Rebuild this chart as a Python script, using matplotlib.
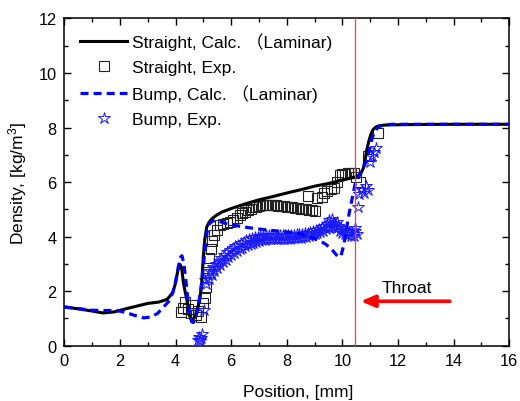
import matplotlib
matplotlib.use("Agg")
import matplotlib.pyplot as plt
from matplotlib.ticker import MultipleLocator

plt.rcParams['font.family'] = ['Liberation Sans', 'Noto Sans CJK SC', 'DejaVu Sans']
plt.rcParams['mathtext.default'] = 'regular'

# ---- data ----
straight_calc_x = [0, 0.3, 0.7, 1.0, 1.4, 1.8, 2.2, 2.6, 3.0, 3.4, 3.7, 3.9, 4.0, 4.08, 4.16, 4.22,
                   4.28, 4.34, 4.4, 4.46, 4.52, 4.58, 4.65, 4.72, 4.8, 4.88, 4.94, 5.0, 5.05, 5.12,
                   5.2, 5.3, 5.45, 5.66, 6.0, 6.5, 7.0, 7.5, 8.0, 8.5, 9.0, 9.5, 10.0, 10.3, 10.5,
                   10.65, 10.75, 10.82, 10.88, 10.95, 11.02, 11.1, 11.2, 11.3, 11.5, 11.8, 12.5, 14, 16]
straight_calc_y = [1.42, 1.38, 1.32, 1.27, 1.2, 1.24, 1.35, 1.45, 1.55, 1.6, 1.7, 1.95, 2.3, 2.75, 2.98, 2.85,
                   2.33, 2.0, 1.72, 1.3, 1.05, 0.92, 1.0, 1.15, 1.4, 1.75, 2.3, 3.3, 3.9, 4.35,
                   4.52, 4.65, 4.77, 4.9, 5.03, 5.2, 5.35, 5.47, 5.6, 5.72, 5.85, 5.95, 6.07, 6.15, 6.2,
                   6.3, 6.5, 6.85, 7.2, 7.5, 7.75, 7.92, 8.02, 8.06, 8.09, 8.1, 8.11, 8.12, 8.12]

bump_calc_x = [0, 0.5, 1.0, 1.5, 1.9, 2.2, 2.5, 2.85, 3.1, 3.35, 3.55, 3.75, 3.9, 4.0, 4.1, 4.18, 4.23,
               4.3, 4.38, 4.45, 4.52, 4.58, 4.64, 4.7, 4.78, 4.86, 4.94, 5.0, 5.06, 5.12, 5.2, 5.3,
               5.42, 5.6, 5.9, 6.3, 6.62, 7.0, 7.5, 8.0, 8.5, 9.0, 9.2, 9.4, 9.6, 9.85, 9.95, 10.05,
               10.15, 10.25, 10.35, 10.45, 10.55, 10.7, 10.85, 10.95, 11.05, 11.15, 11.3, 11.5, 11.8,
               12.5, 14, 16]
bump_calc_y = [1.42, 1.36, 1.3, 1.29, 1.29, 1.22, 1.12, 1.02, 1.05, 1.18, 1.4, 1.62, 1.95, 2.35, 2.9, 3.25, 3.3,
               3.0, 2.3, 1.6, 1.1, 0.88, 0.85, 0.95, 1.25, 1.75, 2.3, 2.9, 3.6, 4.1, 4.45, 4.55,
               4.6, 4.55, 4.45, 4.38, 4.33, 4.28, 4.22, 4.17, 4.1, 3.92, 3.84, 3.72, 3.55, 3.25, 3.3, 3.7,
               4.3, 4.9, 5.4, 5.9, 6.15, 6.4, 6.75, 7.1, 7.55, 7.85, 8.03, 8.1, 8.12,
               8.12, 8.12, 8.12]

straight_exp_x = [4.18, 4.25, 4.34, 4.45, 4.55, 4.64, 4.72, 4.82, 4.9, 4.98, 5.05, 5.1, 5.15, 5.2, 5.26,
                  5.32, 5.4, 5.48, 5.6, 5.72, 5.84, 5.96, 6.08, 6.2, 6.3, 6.4, 6.5, 6.6, 6.7, 6.8,
                  6.9, 7.0, 7.1, 7.2, 7.3, 7.4, 7.5, 7.6, 7.7, 7.8, 7.9, 8.0, 8.1, 8.2, 8.3, 8.4,
                  8.5, 8.6, 8.7, 8.8, 8.9, 9.0, 8.77, 9.1, 9.25, 9.35, 9.45, 9.58, 9.68, 9.8, 9.9,
                  10.0, 10.1, 10.2, 10.3, 10.4, 10.5, 10.62, 10.93, 11.28]
straight_exp_y = [1.25, 1.4, 1.62, 1.35, 1.2, 1.5, 1.12, 1.28, 1.05, 1.57, 1.75, 2.15, 2.72, 3.2, 3.55,
                  3.85, 4.05, 4.23, 4.42, 4.45, 4.5, 4.55, 4.62, 4.7, 4.78, 4.85, 4.9, 4.96, 5.02, 5.07,
                  5.1, 5.13, 5.15, 5.16, 5.16, 5.16, 5.16, 5.15, 5.14, 5.12, 5.12, 5.1, 5.09, 5.08, 5.06, 5.05,
                  5.03, 5.01, 5.0, 4.98, 4.97, 4.95, 5.5, 5.4, 5.47, 5.6, 5.66, 5.75, 5.8, 6.0, 6.25,
                  6.3, 6.3, 6.32, 6.35, 6.33, 6.2, 6.0, 6.95, 7.8]

bump_exp_x = [5.05, 5.15, 5.25, 5.35, 5.45, 5.55, 5.65, 5.75, 5.85, 5.95, 6.05, 6.15, 6.25, 6.35, 6.45,
              6.55, 6.65, 6.75, 6.85, 6.95, 7.05, 7.15, 7.25, 7.35, 7.45, 7.55, 7.65, 7.75, 7.85, 7.95,
              8.05, 8.15, 8.25, 8.35, 8.45, 8.55, 8.65, 8.75, 8.85, 8.95, 9.05, 9.15, 9.25, 9.35, 9.45,
              9.55, 9.65, 9.75, 9.85, 9.95, 10.05, 10.15, 10.25, 10.35, 10.45,
              5.1, 5.2, 5.3, 5.4, 5.5, 5.6, 5.7, 5.8, 5.9, 6.0, 6.1, 6.2, 6.3, 6.4, 6.5,
              6.6, 6.7, 6.8, 6.9, 7.0, 7.1, 7.2, 7.3, 7.4, 7.5, 7.6, 7.7, 7.8, 7.9, 8.0,
              8.1, 8.2, 8.3, 8.4, 8.5, 8.6, 8.7, 8.8, 8.9, 9.0, 9.1, 9.2, 9.3, 9.4, 9.5,
              9.6, 9.7, 9.8, 9.9, 10.0, 10.1, 10.2, 10.3, 10.4,
              4.82, 4.86, 4.9, 4.95, 4.88, 5.02, 9.5, 9.62, 9.8, 10.45, 10.52, 10.55, 10.6, 10.7,
              10.78, 10.85, 10.92, 11.0, 11.05, 11.12, 11.2]
bump_exp_y = [2.42, 2.58, 2.74, 2.88, 3.0, 3.12, 3.23, 3.33, 3.42, 3.5, 3.58, 3.65, 3.71, 3.77, 3.82,
              3.87, 3.91, 3.94, 3.97, 4.0, 4.02, 4.03, 4.05, 4.06, 4.07, 4.07, 4.07, 4.07, 4.07, 4.07,
              4.07, 4.07, 4.07, 4.08, 4.08, 4.1, 4.12, 4.14, 4.17, 4.21, 4.25, 4.29, 4.34, 4.4, 4.46,
              4.5, 4.5, 4.46, 4.38, 4.31, 4.25, 4.19, 4.17, 4.16, 4.2,
              2.28, 2.44, 2.6, 2.74, 2.86, 2.97, 3.07, 3.16, 3.25, 3.33, 3.4, 3.47, 3.54, 3.6, 3.65,
              3.7, 3.74, 3.78, 3.81, 3.84, 3.86, 3.88, 3.9, 3.91, 3.92, 3.93, 3.93, 3.93, 3.93, 3.93,
              3.93, 3.94, 3.94, 3.95, 3.96, 3.97, 3.99, 4.02, 4.05, 4.08, 4.12, 4.16, 4.21, 4.27, 4.32,
              4.36, 4.36, 4.3, 4.22, 4.15, 4.09, 4.05, 4.03, 4.03,
              0.22, 0.33, 0.28, 0.42, 0.18, 1.3, 4.6, 4.65, 4.55, 4.3, 4.1, 5.1, 5.55, 5.7,
              5.6, 5.85, 5.7, 6.75, 6.95, 7.1, 7.25]

throat_x = 10.47
arrow_start = (13.86, 1.63)
arrow_end = (10.66, 1.63)

labels = ['Straight, Calc. （Laminar)', 'Straight, Exp.', 'Bump, Calc. （Laminar)', 'Bump, Exp.']

FS = 12.5
TFS = 11.8

# ---- figure ----
fig = plt.figure(figsize=(5.2, 4.02), dpi=100)
ax = fig.add_axes([0.1237, 0.1376, 0.8557, 0.8139])

ax.plot(straight_exp_x, straight_exp_y, linestyle='none', marker='s', markersize=7.5,
        markerfacecolor='none', markeredgecolor='#222222', markeredgewidth=0.8, label=labels[1], zorder=3)
ax.plot(bump_exp_x, bump_exp_y, linestyle='none', marker='*', markersize=9,
        markerfacecolor='none', markeredgecolor='#1a1aff', markeredgewidth=0.7, label=labels[3], zorder=3)
ax.plot(straight_calc_x, straight_calc_y, color='black', lw=2.2, label=labels[0], zorder=4)
ax.plot(bump_calc_x, bump_calc_y, color='#0000ff', lw=2.3, linestyle=(0, (2.5, 1.6)), label=labels[2], zorder=5)

ax.axvline(throat_x, color='#ff3b3b', lw=0.9, zorder=6)
ax.annotate('', xy=arrow_end, xytext=arrow_start,
            arrowprops=dict(arrowstyle='-|>,head_length=0.7,head_width=0.3', color='red', lw=2.6,
                            mutation_scale=12, shrinkA=0, shrinkB=0))
ax.text(11.4, 2.15, 'Throat', fontsize=FS, va='center', ha='left')

ax.set_xlim(0, 16)
ax.set_ylim(0, 12)
ax.xaxis.set_major_locator(MultipleLocator(2))
ax.xaxis.set_minor_locator(MultipleLocator(1))
ax.yaxis.set_major_locator(MultipleLocator(2))
ax.yaxis.set_minor_locator(MultipleLocator(1))
ax.tick_params(which='both', direction='in', top=True, right=True, labelsize=TFS, width=1.0)
ax.tick_params(which='major', length=5, pad=5.5)
ax.tick_params(which='minor', length=3)
for s in ax.spines.values():
    s.set_linewidth(1.1)

ax.set_xlabel('Position, [mm]', fontsize=FS)
ax.xaxis.set_label_coords(0.526, -0.118)
ax.set_ylabel('Density, [kg/m$^3$]', fontsize=FS, labelpad=7)

h, l = ax.get_legend_handles_labels()
order = [2, 0, 3, 1]
ax.legend([h[i] for i in order], [l[i] for i in order], loc='upper left',
          bbox_to_anchor=(0.036, 0.958), borderaxespad=0, borderpad=0, frameon=False,
          fontsize=FS, handlelength=2.7, handletextpad=0.3, labelspacing=0.55, numpoints=1)

fig.savefig('out.png', dpi=100)
